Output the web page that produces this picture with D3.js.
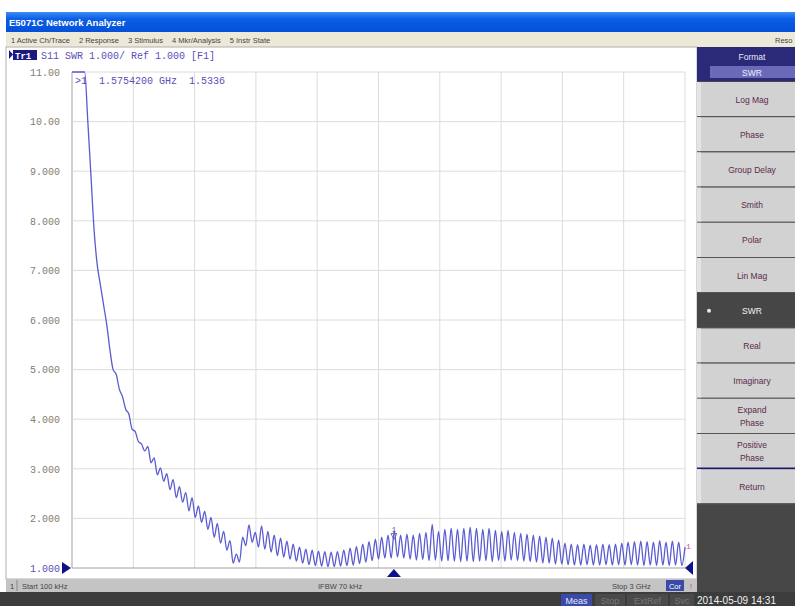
<!DOCTYPE html>
<html>
<head>
<meta charset="utf-8">
<script src="https://cdn.jsdelivr.net/npm/d3@7"></script>
<style>
  body { margin: 0; background: #fff; }
  svg { display: block; }
  text { font-family: "Liberation Sans", "DejaVu Sans", sans-serif; }
  .mono { font-family: "Liberation Mono", "DejaVu Sans Mono", monospace; }
</style>
</head>
<body>
<svg id="frame" width="795" height="606"></svg>
<script>
const width = 795, height = 606;

// sweep settings (MHz)
const sweepStart = 0.1;
const sweepStop = 3000;

// S11 SWR trace, one value per sweep point
const swr = [
  20.0, 16.0, 13.0, 11.5, 11.0, 10.0, 8.9, 7.8, 7.1, 6.7,
  6.3, 5.9, 5.4, 5.0, 4.9, 4.6, 4.45, 4.2, 4.1, 3.8,
  3.75, 3.55, 3.50, 3.36, 3.45, 3.12, 3.22, 2.88, 3.02, 2.75,
  2.90, 2.58, 2.78, 2.42, 2.64, 2.33, 2.52, 2.15, 2.42, 2.02,
  2.25, 1.92, 2.14, 1.78, 2.02, 1.62, 1.90, 1.50, 1.74, 1.36,
  1.55, 1.10, 1.28, 1.12, 1.62, 1.45, 1.87, 1.52, 1.72, 1.42,
  1.85, 1.38, 1.74, 1.32, 1.66, 1.25, 1.60, 1.22, 1.54, 1.18,
  1.48, 1.14, 1.42, 1.10, 1.38, 1.07, 1.36, 1.05, 1.34, 1.04,
  1.33, 1.03, 1.32, 1.03, 1.33, 1.04, 1.36, 1.05, 1.40, 1.06,
  1.43, 1.09, 1.48, 1.12, 1.53, 1.15, 1.58, 1.18, 1.62, 1.20,
  1.66, 1.20, 1.75, 1.22, 1.66, 1.20, 1.68, 1.18, 1.66, 1.16,
  1.70, 1.17, 1.72, 1.15, 1.88, 1.16, 1.74, 1.14, 1.78, 1.15,
  1.80, 1.14, 1.78, 1.13, 1.80, 1.14, 1.82, 1.13, 1.80, 1.14,
  1.78, 1.15, 1.80, 1.13, 1.76, 1.15, 1.74, 1.14, 1.76, 1.16,
  1.72, 1.15, 1.70, 1.14, 1.68, 1.13, 1.66, 1.12, 1.64, 1.10,
  1.62, 1.10, 1.60, 1.08, 1.56, 1.08, 1.50, 1.07, 1.48, 1.06,
  1.47, 1.06, 1.48, 1.07, 1.46, 1.06, 1.47, 1.06, 1.48, 1.07,
  1.47, 1.06, 1.48, 1.07, 1.50, 1.06, 1.52, 1.07, 1.53, 1.06,
  1.54, 1.05, 1.53, 1.06, 1.52, 1.05, 1.55, 1.06, 1.52, 1.05,
  1.54, 1.06, 1.52, 1.05, 1.42
];

const yTickValues = [11, 10, 9, 8, 7, 6, 5, 4, 3, 2, 1];
const yTickLabels = ["11.00", "10.00", "9.000", "8.000", "7.000", "6.000",
                     "5.000", "4.000", "3.000", "2.000", "1.000"];
const xGridValues = [0, 300, 600, 900, 1200, 1500, 1800, 2100, 2400, 2700, 3000];

const markerFreq = 1575.42; // MHz
const markerValue = 1.5336;

const menuItems = ["1 Active Ch/Trace", "2 Response", "3 Stimulus", "4 Mkr/Analysis", "5 Instr State"];
const buttons = [["Log Mag"], ["Phase"], ["Group Delay"], ["Smith"], ["Polar"], ["Lin Mag"],
                 ["SWR"], ["Real"], ["Imaginary"], ["Expand", "Phase"], ["Positive", "Phase"], ["Return"]];
const activeButton = "SWR";

const plot = { left: 72, right: 685, top: 72, bottom: 568 };
const traceColor = "#4848cc";
const labelColor = "#5a50b8";

const svg = d3.select("#frame");
const freqs = swr.map((v, i) => sweepStart + i * (sweepStop - sweepStart) / (swr.length - 1));

const x = d3.scaleLinear().domain([0, sweepStop]).range([plot.left, plot.right]);
const y = d3.scaleLinear().domain([1, 11]).range([plot.bottom, plot.top]);

// ---- window chrome ----
const grad = svg.append("defs").append("linearGradient")
    .attr("id", "titlebar").attr("x1", 0).attr("x2", 0).attr("y1", 0).attr("y2", 1);
grad.append("stop").attr("offset", "0%").attr("stop-color", "#3d8cf4");
grad.append("stop").attr("offset", "35%").attr("stop-color", "#0a5ee6");
grad.append("stop").attr("offset", "100%").attr("stop-color", "#0550d8");

svg.append("rect").attr("x", 6).attr("y", 12).attr("width", width - 6).attr("height", 20)
    .attr("fill", "url(#titlebar)");
svg.append("text").attr("x", 9).attr("y", 26).attr("fill", "#fff")
    .style("font-size", "9.5px").style("font-weight", "bold")
    .text("E5071C Network Analyzer");

svg.append("rect").attr("x", 6).attr("y", 32).attr("width", width - 6).attr("height", 15)
    .attr("fill", "#ece9d8");
var mx = 11;
menuItems.forEach(m => {
    const t = svg.append("text").attr("x", mx).attr("y", 43).attr("fill", "#444")
        .style("font-size", "7.5px").text(m);
    mx += t.node().getComputedTextLength() + 9;
});
svg.append("text").attr("x", 775).attr("y", 43).attr("fill", "#444")
    .style("font-size", "7.5px").text("Reso");

// chart panel
svg.append("rect").attr("x", 6).attr("y", 47).attr("width", 691).attr("height", 532)
    .attr("fill", "#fff").attr("stroke", "#b0b0b0").attr("stroke-width", 1);

// ---- grid ----
svg.append("g").selectAll("line.v").data(xGridValues).join("line")
    .attr("x1", d => x(d)).attr("x2", d => x(d))
    .attr("y1", plot.top).attr("y2", plot.bottom)
    .attr("stroke", (d, i) => i == 0 ? "#a0a0a0" : "#dcdcdc").attr("stroke-width", 1);
svg.append("g").selectAll("line.h").data(yTickValues).join("line")
    .attr("x1", plot.left).attr("x2", plot.right)
    .attr("y1", d => y(d)).attr("y2", d => y(d))
    .attr("stroke", d => d == 1 ? "#a0a0a0" : "#dcdcdc").attr("stroke-width", 1);

// y labels
const yAxis = d3.axisLeft(y).tickValues(yTickValues)
    .tickFormat((d, i) => yTickLabels[i]).tickSize(0).tickPadding(12);
const ya = svg.append("g").attr("transform", "translate(" + plot.left + ",0)").call(yAxis);
ya.select(".domain").remove();
ya.selectAll("text").attr("class", "mono").style("font-size", "10px")
    .attr("fill", d => d == 1 ? labelColor : "#857d70");

// ---- trace ----
const clip = svg.append("clipPath").attr("id", "plotclip").append("rect")
    .attr("x", plot.left).attr("y", plot.top - 1)
    .attr("width", plot.right - plot.left + 1).attr("height", plot.bottom - plot.top + 2);

const line = d3.line()
    .x((d, i) => x(freqs[i]))
    .y(d => y(Math.min(d, 11)))
    .curve(d3.curveMonotoneX);

svg.append("path").datum(swr)
    .attr("clip-path", "url(#plotclip)")
    .attr("d", line)
    .attr("fill", "none").attr("stroke", traceColor).attr("stroke-width", 1.3)
    .attr("stroke-opacity", 0.9)
    .attr("stroke-linejoin", "round");

// ---- header + marker readout ----
svg.append("path").attr("d", "M9,50 L13,54.5 L9,59 Z").attr("fill", "#1a1a80");
svg.append("rect").attr("x", 13).attr("y", 50).attr("width", 24).attr("height", 10).attr("fill", "#1a1a80");
svg.append("text").attr("class", "mono").attr("x", 15).attr("y", 58.5).attr("fill", "#fff")
    .style("font-size", "9px").style("font-weight", "bold").text("Tr1");
svg.append("text").attr("class", "mono").attr("x", 41).attr("y", 59).attr("fill", labelColor)
    .style("font-size", "10px").text("S11 SWR 1.000/ Ref 1.000 [F1]");

svg.append("text").attr("class", "mono").attr("x", 75).attr("y", 84).attr("fill", labelColor)
    .style("font-size", "10px").attr("xml:space", "preserve")
    .text(">1  1.5754200 GHz  " + markerValue.toFixed(4));

// marker on trace
const mxp = x(markerFreq), myp = y(markerValue);
svg.append("path").attr("d", `M${mxp},${myp - 2} L${mxp - 3},${myp - 8} L${mxp + 3},${myp - 8} Z`)
    .attr("fill", "none").attr("stroke", labelColor).attr("stroke-width", 0.8);
svg.append("text").attr("class", "mono").attr("x", mxp).attr("y", myp - 10)
    .attr("text-anchor", "middle").attr("fill", labelColor).style("font-size", "8px").text("1");
// marker on stimulus axis
svg.append("path").attr("d", `M${mxp - 7},${plot.bottom + 9} L${mxp},${plot.bottom + 1} L${mxp + 7},${plot.bottom + 9} Z`)
    .attr("fill", "#10108a");
// reference line arrows
svg.append("path").attr("d", `M${plot.left - 10},${y(1) - 6} L${plot.left - 1},${y(1)} L${plot.left - 10},${y(1) + 6} Z`)
    .attr("fill", "#10108a");
svg.append("path").attr("d", `M${plot.right + 8},${y(1) - 7} L${plot.right},${y(1)} L${plot.right + 8},${y(1) + 7} Z`)
    .attr("fill", "#10108a");
svg.append("text").attr("class", "mono").attr("x", plot.right + 1).attr("y", y(swr[swr.length - 1]) + 2)
    .attr("fill", "#c050a0").style("font-size", "8px").text("1");

// ---- status bar ----
svg.append("rect").attr("x", 6).attr("y", 579).attr("width", 691).attr("height", 13).attr("fill", "#c4c4c4");
svg.append("line").attr("x1", 17).attr("x2", 17).attr("y1", 580).attr("y2", 591).attr("stroke", "#888");
const st = [[10, "1"], [22, "Start 100 kHz"], [318, "IFBW 70 kHz"], [612, "Stop 3 GHz"]];
st.forEach(s => svg.append("text").attr("x", s[0]).attr("y", 589).attr("fill", "#444")
    .style("font-size", "7.5px").text(s[1]));
svg.append("rect").attr("x", 666).attr("y", 580).attr("width", 18).attr("height", 11).attr("fill", "#3a4aa8");
svg.append("text").attr("x", 675).attr("y", 589).attr("text-anchor", "middle").attr("fill", "#fff")
    .style("font-size", "7.5px").text("Cor");
svg.append("text").attr("x", 690).attr("y", 589).attr("fill", "#c040a0").style("font-size", "7.5px").text("!");

// bottom bar
svg.append("rect").attr("x", 0).attr("y", 592).attr("width", width).attr("height", 14).attr("fill", "#3c3c3c");
const bottomTags = [[561, 31, "Meas", "#3a4aa8", "#e8e8f8"], [595, 30, "Stop", "#4a4a4a", "#777"],
                    [627, 41, "ExtRef", "#4a4a4a", "#777"], [670, 24, "Svc", "#4a4a4a", "#777"]];
bottomTags.forEach(b => {
    svg.append("rect").attr("x", b[0]).attr("y", 594).attr("width", b[1]).attr("height", 12).attr("fill", b[3]);
    svg.append("text").attr("x", b[0] + b[1] / 2).attr("y", 604).attr("text-anchor", "middle")
        .attr("fill", b[4]).style("font-size", "9px").text(b[2]);
});
svg.append("text").attr("x", 697).attr("y", 604).attr("fill", "#f0f0f0")
    .style("font-size", "10px").text("2014-05-09 14:31");

// ---- softkey panel ----
svg.append("rect").attr("x", 697).attr("y", 47).attr("width", 98).attr("height", 545).attr("fill", "#474747");
svg.append("rect").attr("x", 697).attr("y", 47).attr("width", 98).attr("height", 34).attr("fill", "#2a2a78");
svg.append("text").attr("x", 752).attr("y", 60).attr("text-anchor", "middle").attr("fill", "#e8e8f8")
    .style("font-size", "8.5px").text("Format");
svg.append("rect").attr("x", 710).attr("y", 66).attr("width", 85).attr("height", 12).attr("fill", "#6a6ab8");
svg.append("text").attr("x", 752).attr("y", 75.5).attr("text-anchor", "middle").attr("fill", "#f0f0ff")
    .style("font-size", "8.5px").text(activeButton);

const btnTop = 82, btnH = 35.2;
const btn = svg.append("g").selectAll("g").data(buttons).join("g")
    .attr("transform", (d, i) => "translate(697," + (btnTop + i * btnH) + ")");
btn.append("rect").attr("x", 0).attr("y", 0).attr("width", 98).attr("height", btnH - 1)
    .attr("fill", d => d[0] == activeButton ? "#464646" : "#d2d2d2");
btn.append("rect").attr("x", 0).attr("y", 0).attr("width", 4).attr("height", btnH - 1)
    .attr("fill", d => d[0] == activeButton ? "#464646" : "#e4e4e4");
btn.append("line").attr("x1", 0).attr("x2", 98).attr("y1", btnH - 0.5).attr("y2", btnH - 0.5)
    .attr("stroke", (d, i) => i == buttons.length - 2 ? "#1a1a70" : "#555").attr("stroke-width", (d, i) => i == buttons.length - 2 ? 2.5 : 1.2);
btn.each(function (d) {
    const g = d3.select(this);
    const active = d[0] == activeButton;
    d.forEach((s, j) => {
        g.append("text").attr("x", 55).attr("y", btnH / 2 + 3 + (j - (d.length - 1) / 2) * 13)
            .attr("text-anchor", "middle").attr("fill", active ? "#f4f4f4" : "#5a2a4a")
            .style("font-size", "8.5px").text(s);
    });
    if (active) {
        g.append("circle").attr("cx", 12).attr("cy", btnH / 2).attr("r", 2).attr("fill", "#e8e8e8");
    }
});
</script>
</body>
</html>
